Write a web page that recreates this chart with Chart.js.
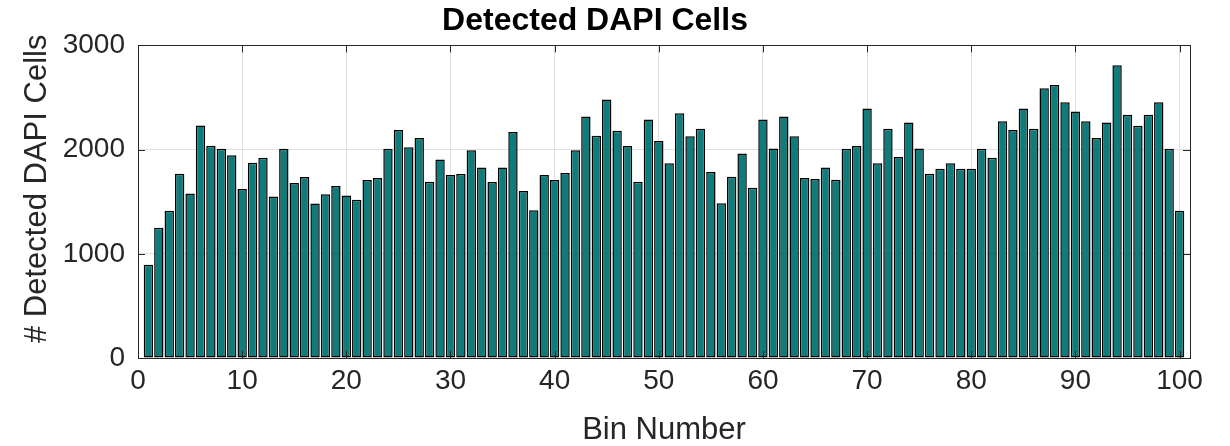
<!DOCTYPE html>
<html>
<head>
<meta charset="utf-8">
<script src="https://cdn.jsdelivr.net/npm/chart.js@4"></script>
<style>
  html, body { margin: 0; padding: 0; background: #fff; }
</style>
</head>
<body>
<canvas id="graph" width="1230" height="446"></canvas>
<script>
// detected DAPI cells per bin
var cells = [
	895, 1251, 1413, 1768, 1578, 2232, 2038, 2007, 1946, 1622,
	1873, 1921, 1549, 2007, 1680, 1737, 1483, 1572, 1651, 1559,
	1518, 1708, 1727, 2007, 2188, 2022, 2111, 1692, 1905, 1756,
	1765, 1994, 1829, 1689, 1829, 2169, 1603, 1419, 1756, 1708,
	1775, 1994, 2318, 2134, 2480, 2181, 2035, 1692, 2289, 2083,
	1870, 2350, 2127, 2200, 1784, 1486, 1740, 1962, 1635, 2289,
	2010, 2318, 2127, 1727, 1718, 1829, 1711, 2007, 2035, 2394,
	1870, 2200, 1930, 2261, 2010, 1768, 1816, 1870, 1816, 1816,
	2007, 1921, 2273, 2188, 2394, 2200, 2588, 2619, 2454, 2365,
	2273, 2111, 2261, 2810, 2334, 2229, 2334, 2454, 2007, 1413
];
var bins = [];
for (var i = 0; i < cells.length; i++) {
	bins.push(i + 1);
}
var xTicks = [0, 10, 20, 30, 40, 50, 60, 70, 80, 90, 100];
var yTicks = [0, 1000, 2000, 3000];

var points = [];
for (var i = 0; i < bins.length; i++) {
	points.push({x: bins[i], y: cells[i]});
}

var axisColor = '#262626';
var fontFam = "Arial, 'Liberation Sans', Helvetica, sans-serif";

// matlab style box with inward tick marks
var boxPlugin = {
	id: 'box',
	afterDatasetsDraw: function(chart) {
		var a = chart.chartArea;
		var ctx = chart.ctx;
		var xs = chart.scales.x;
		var ys = chart.scales.y;
		ctx.save();
		ctx.strokeStyle = axisColor;
		ctx.lineWidth = 1;
		ctx.beginPath();
		xTicks.forEach(function(v) {
			var px = Math.round(xs.getPixelForValue(v)) + 0.5;
			ctx.moveTo(px, a.bottom);
			ctx.lineTo(px, a.bottom - 7);
			ctx.moveTo(px, a.top);
			ctx.lineTo(px, a.top + 7);
		});
		yTicks.forEach(function(v) {
			var py = Math.round(ys.getPixelForValue(v)) + 0.5;
			ctx.moveTo(a.left, py);
			ctx.lineTo(a.left + 7, py);
			ctx.moveTo(a.right, py);
			ctx.lineTo(a.right - 7, py);
		});
		ctx.stroke();
		ctx.strokeRect(Math.round(a.left) + 0.5, Math.round(a.top) + 0.5,
			Math.round(a.right - a.left), Math.round(a.bottom - a.top));
		ctx.restore();
	}
};

var ctx = document.getElementById('graph').getContext('2d');
var myChart = new Chart(ctx, {
	type: 'bar',
	data: {
		datasets: [{
			label: 'Detected DAPI Cells',
			data: points,
			backgroundColor: 'rgb(15, 123, 123)',
			borderColor: '#000',
			borderWidth: 1.5,
			borderSkipped: false,
			barPercentage: 0.9,
			categoryPercentage: 1
		}]
	},
	options: {
		responsive: false,
		animation: false,
		layout: { padding: { left: 0, right: 40, top: 0, bottom: 0 } },
		plugins: {
			legend: { display: false },
			tooltip: { enabled: false },
			title: {
				display: true,
				text: 'Detected DAPI Cells',
				color: '#000',
				font: { family: fontFam, size: 32, weight: 'bold' },
				padding: { top: 2, bottom: 5 }
			}
		},
		scales: {
			x: {
				type: 'linear',
				min: 0,
				max: 101,
				offset: false,
				afterBuildTicks: function(scale) {
					scale.ticks = xTicks.map(function(v) { return {value: v}; });
				},
				afterFit: function(scale) { scale.height = 88; },
				grid: { color: '#e0e0e0', drawTicks: false, offset: false },
				border: { display: false },
				ticks: {
					color: axisColor,
					font: { family: fontFam, size: 28 },
					padding: 6,
					maxRotation: 0,
					autoSkip: false,
					callback: function(v) { return String(v); }
				},
				title: {
					display: true,
					text: 'Bin Number',
					color: axisColor,
					font: { family: fontFam, size: 31, lineHeight: 1 },
					padding: { top: 0, bottom: 0 }
				}
			},
			y: {
				min: 0,
				max: 3000,
				afterBuildTicks: function(scale) {
					scale.ticks = yTicks.map(function(v) { return {value: v}; });
				},
				afterFit: function(scale) { scale.width = 138; },
				grid: { color: '#e0e0e0', drawTicks: false },
				border: { display: false },
				ticks: {
					color: axisColor,
					font: { family: fontFam, size: 28 },
					padding: 13,
					callback: function(v) { return String(v); }
				},
				title: {
					display: true,
					text: '   # Detected DAPI Cells',
					color: axisColor,
					font: { family: fontFam, size: 31 },
					padding: { top: 19, bottom: 0 }
				}
			}
		}
	},
	plugins: [boxPlugin]
});
</script>
</body>
</html>
